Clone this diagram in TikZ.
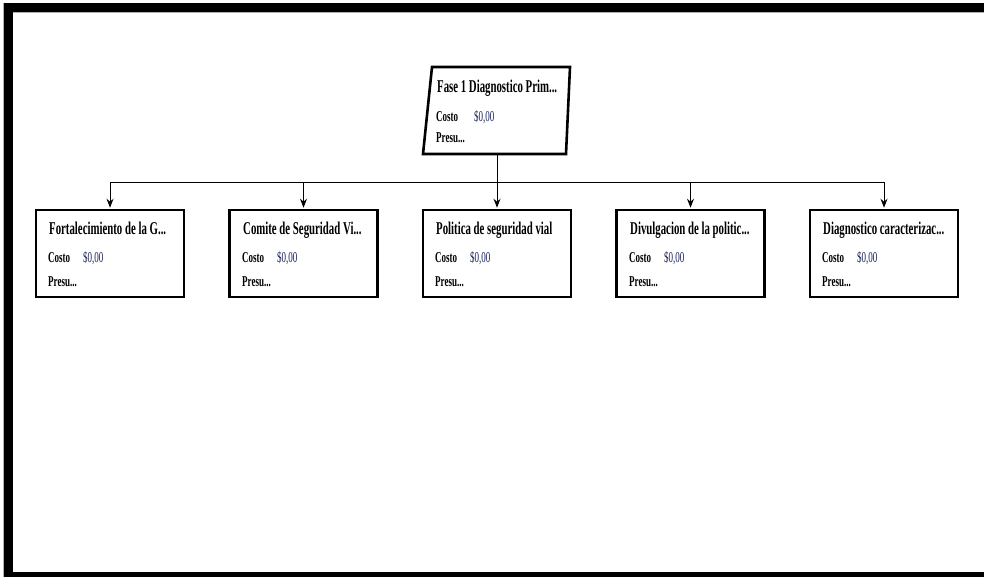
\documentclass[tikz,border=0pt]{standalone}
\usepackage{fontspec}
\usepackage{tikz}
\usetikzlibrary{arrows.meta}
\newfontfamily\wbsfont[FakeStretch=0.6]{Liberation Serif}
\definecolor{costblue}{RGB}{25,35,90}
\tikzset{
  task/.style={
    shape = rectangle,
    draw,
    line width = 2.6pt,
    fill = white,
    minimum width = 148pt,
    minimum height = 87pt,
    inner sep = 0pt
  },
}
\tikzset{
  wire/.style={
    line width = 1pt
  },
  feed/.style={
    line width = 1pt,
    -{Stealth[length=9pt,width=7pt,inset=3pt]},
    shorten > = 1pt
  },
  tasktitle/.style={
    anchor = base west,
    inner sep = 0pt,
    font = \wbsfont\fontsize{18}{18}\selectfont\bfseries
  },
  costlabel/.style={
    anchor = base west,
    inner sep = 0pt,
    font = \wbsfont\fontsize{15}{15}\selectfont\bfseries
  },
  costvalue/.style={
    anchor = base west,
    inner sep = 0pt,
    text = costblue,
    font = \wbsfont\fontsize{15}{15}\selectfont
  }
}

\begin{document}
\begin{tikzpicture}[x=1pt,y=-1pt]
        \useasboundingbox (0,0) rectangle (984,577);

        % frame
        \fill[gray!60] (3,3) rectangle (984,13.5);
        \fill[black] (4,3) rectangle (984,12);
        \fill[gray!60] (3,3) rectangle (4,577);
        \fill[black] (4,3) rectangle (12.5,577);
        \fill[black] (4,571.5) rectangle (984,577);

        % top task
        \draw[line width=2.6pt, fill=white] (432,67) -- (570,67) -- (566,154) -- (423,154) -- cycle;
        \coordinate (fase) at (497,154);
        \coordinate (bus) at (497,183);
        \node[tasktitle] (fasetitle) at (437,93) {Fase 1 Diagnostico Prim...};
        \node[costlabel] (fasecosto) at (436,122) {Costo};
        \node[costvalue] (fasevalor) at (474,122) {\$0,00};
        \node[costlabel] (fasepresu) at (436,143) {Presu...};

        % subtasks
        \node[task] (fort) at (110,253.5) {};
        \node[task] (comite) at (303.5,253.5) {};
        \node[task] (politica) at (497,253.5) {};
        \node[task] (divulg) at (690.5,253.5) {};
        \node[task] (diag) at (884,253.5) {};

        \draw[wire] (fase) -- (bus);
        \draw[feed] (bus) -| (fort.north);
        \draw[feed] (bus) -| (comite.north);
        \draw[feed] (bus) -- (politica.north);
        \draw[feed] (bus) -| (divulg.north);
        \draw[feed] (bus) -| (diag.north);

        \node[tasktitle] (forttitle) at (49,234) {Fortalecimiento de la G...};
        \node[costlabel] (fortcosto) at (48,262) {Costo};
        \node[costvalue] (fortvalor) at (83,262) {\$0,00};
        \node[costlabel] (fortpresu) at (48,286) {Presu...};

        \node[tasktitle] (comitetitle) at (243,234) {Comite de Seguridad Vi...};
        \node[costlabel] (comitecosto) at (242,262) {Costo};
        \node[costvalue] (comitevalor) at (277,262) {\$0,00};
        \node[costlabel] (comitepresu) at (242,286) {Presu...};

        \node[tasktitle] (politicatitle) at (436,234) {Politica de seguridad vial};
        \node[costlabel] (politicacosto) at (435,262) {Costo};
        \node[costvalue] (politicavalor) at (470,262) {\$0,00};
        \node[costlabel] (politicapresu) at (435,286) {Presu...};

        \node[tasktitle] (divulgtitle) at (630,234) {Divulgacion de la politic...};
        \node[costlabel] (divulgcosto) at (629,262) {Costo};
        \node[costvalue] (divulgvalor) at (664,262) {\$0,00};
        \node[costlabel] (divulgpresu) at (629,286) {Presu...};

        \node[tasktitle] (diagtitle) at (823,234) {Diagnostico caracterizac...};
        \node[costlabel] (diagcosto) at (822,262) {Costo};
        \node[costvalue] (diagvalor) at (857,262) {\$0,00};
        \node[costlabel] (diagpresu) at (822,286) {Presu...};
\end{tikzpicture}
\end{document}
